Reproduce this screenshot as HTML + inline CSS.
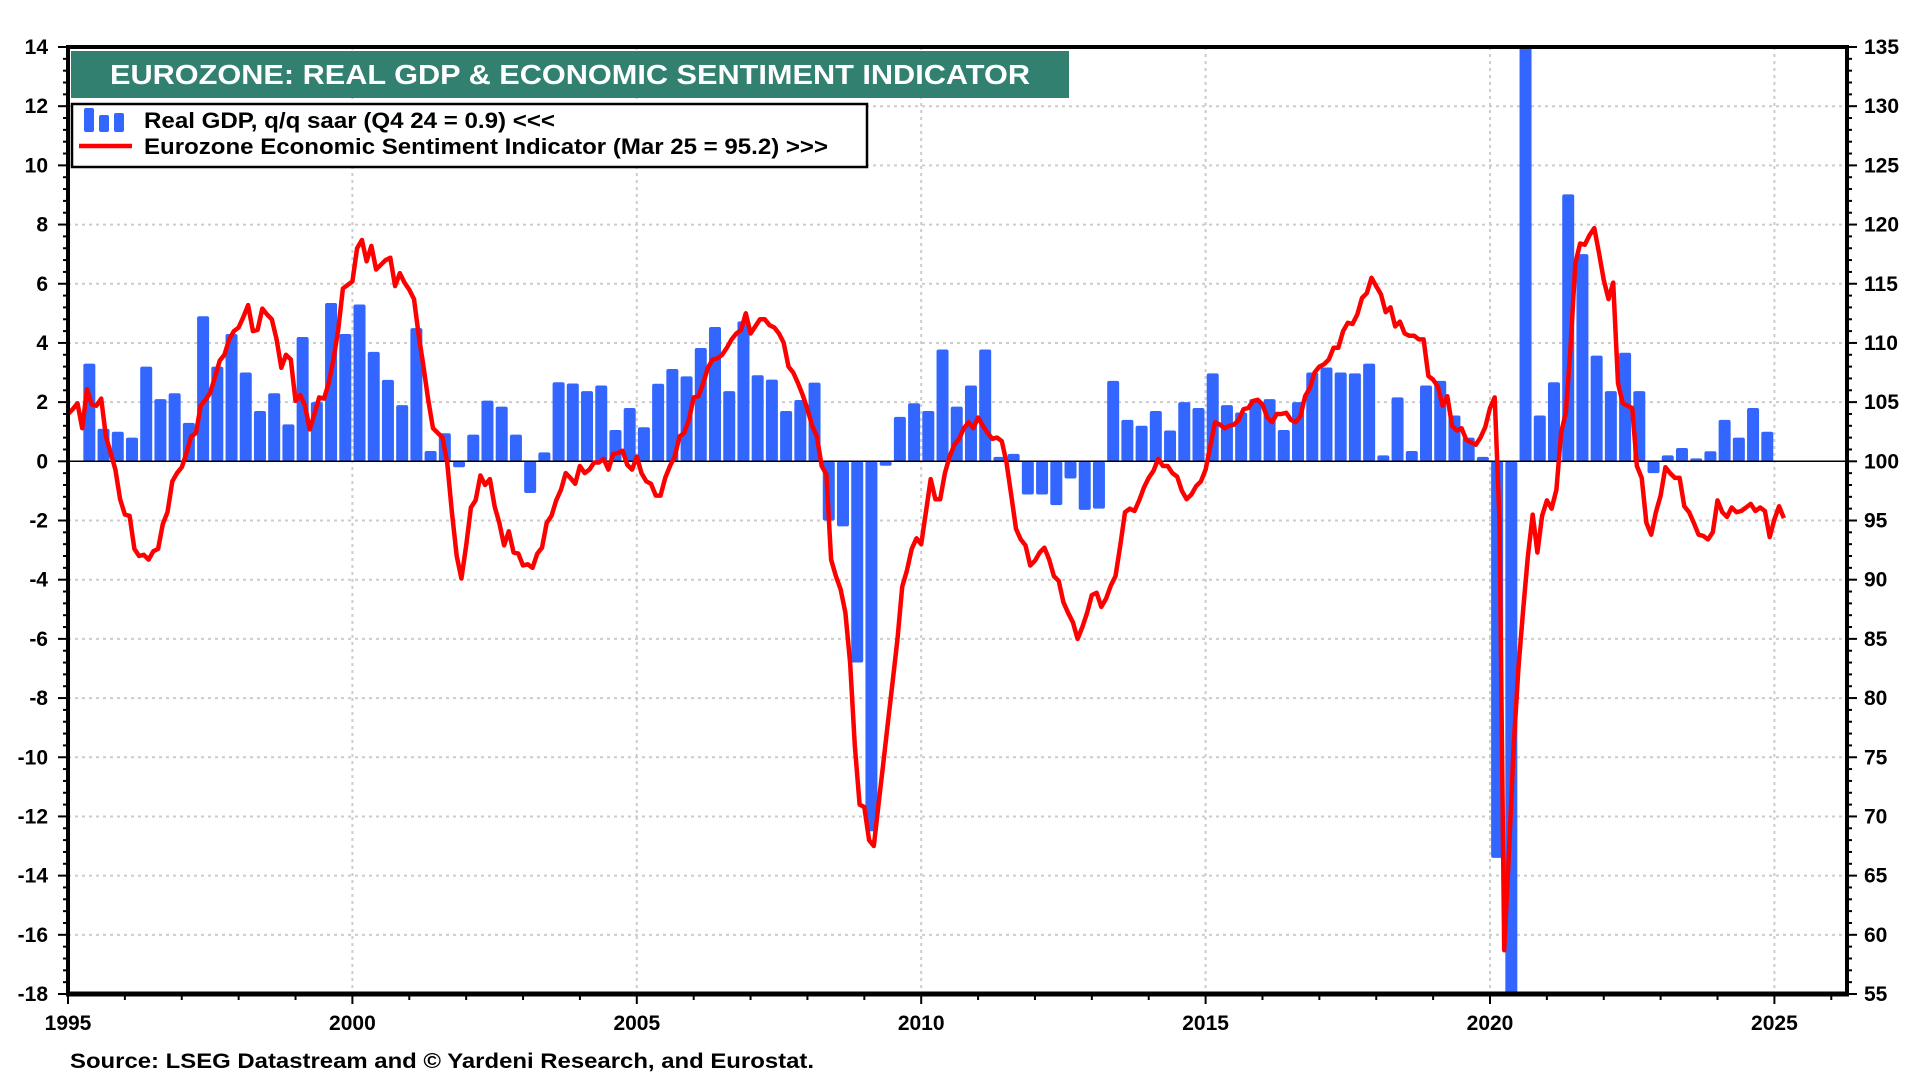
<!DOCTYPE html>
<html><head><meta charset="utf-8"><style>
html,body{margin:0;padding:0;background:#fff;overflow:hidden;width:1920px;height:1080px;}
svg{display:block;font-family:"Liberation Sans",Arial,sans-serif;font-weight:bold;}
</style></head><body>
<svg id="chart" width="1920" height="1080" viewBox="0 0 1920 1080" xmlns="http://www.w3.org/2000/svg">
<defs><clipPath id="plotclip"><rect x="68" y="47" width="1779" height="946"/></clipPath></defs>
<g id="grid"></g>
<g id="bars" clip-path="url(#plotclip)"></g>
<line x1="68" x2="1847" y1="461.3" y2="461.3" stroke="#000" stroke-width="1.5"/>
<path id="esi" fill="none" stroke="#ff0000" stroke-width="4.5" stroke-linejoin="round" clip-path="url(#plotclip)"/>
<g id="axes"></g>
<rect x="71" y="51" width="998" height="47" fill="#318070"/>
<text x="110" y="84" font-size="28" fill="#fff" textLength="920" lengthAdjust="spacingAndGlyphs">EUROZONE: REAL GDP &amp; ECONOMIC SENTIMENT INDICATOR</text>
<g>
<rect x="72" y="104" width="795" height="63" fill="#fff" stroke="#000" stroke-width="2.5"/>
<g>
<rect x="84" y="108" width="10" height="24" rx="2" fill="#3366ff"/><rect x="99" y="115" width="10" height="17" rx="2" fill="#3366ff"/><rect x="114" y="113" width="10" height="19" rx="2" fill="#3366ff"/>
<text x="144" y="128" font-size="22" textLength="411" lengthAdjust="spacingAndGlyphs">Real GDP, q/q saar (Q4 24 = 0.9) &lt;&lt;&lt;</text>
</g>
<g>
<line x1="79" x2="132" y1="146" y2="146" stroke="#ff0000" stroke-width="4.5"/>
<text x="144" y="154" font-size="22" textLength="684" lengthAdjust="spacingAndGlyphs">Eurozone Economic Sentiment Indicator (Mar 25 = 95.2) &gt;&gt;&gt;</text>
</g>
</g>
<text x="70" y="1068" font-size="21" textLength="744" lengthAdjust="spacingAndGlyphs">Source: LSEG Datastream and © Yardeni Research, and Eurostat.</text>
</svg>
<script>
const gdpStart = 1995.25;
const gdpValues = [3.3,1.1,1.0,
0.8,3.2,2.1,2.3, 1.3,4.9,3.2,4.3, 3.0,1.7,2.3,1.25, 4.2,2.0,5.35,4.3,
5.3,3.7,2.75,1.9, 4.5,0.35,0.95,-0.2, 0.9,2.05,1.85,0.9, -1.07,0.3,2.67,2.63,
2.37,2.56,1.06,1.8, 1.15,2.62,3.12,2.87, 3.83,4.54,2.37,4.73, 2.91,2.76,1.7,2.07,
2.66,-2.0,-2.2,-6.8, -12.5,-0.15,1.5,1.96, 1.7,3.78,1.85,2.56, 3.78,0.15,0.25,-1.12,
-1.12,-1.48,-0.58,-1.64, -1.6,2.72,1.4,1.2, 1.7,1.04,2.0,1.8, 2.97,1.9,1.65,2.1,
2.1,1.06,2.0,3.0, 3.17,3.0,2.97,3.3, 0.2,2.16,0.35,2.56, 2.72,1.55,0.8,0.15,
-13.4,-40,60,1.55, 2.67,9.02,7.0,3.57, 2.37,3.67,2.37,-0.4, 0.2,0.45,0.1,0.34,
1.4,0.8,1.8,1.0];
const esiStart = 1995.0;
const esiValues = [104.0,104.4,104.9,102.8,106.1,104.8,104.7,105.3,102.1,100.7,99.3,96.8,95.5,95.4,92.6,92.0,92.1,91.7,92.4,92.6,94.7,95.7,98.3,99.0,99.5,100.7,102.1,102.4,104.7,105.2,105.8,107.1,108.5,109.0,110.3,111.0,111.3,112.2,113.2,111.0,111.1,112.9,112.4,112.0,110.3,107.9,109.0,108.6,105.1,105.6,104.7,102.7,104.0,105.4,105.3,106.6,108.6,111.1,114.6,114.9,115.2,118.0,118.7,116.9,118.2,116.2,116.6,117.0,117.2,114.8,115.9,115.1,114.5,113.7,110.6,108.0,105.2,102.8,102.4,102.0,99.9,95.7,92.0,90.1,92.9,96.1,96.7,98.8,98.0,98.5,96.2,94.8,92.9,94.1,92.3,92.2,91.2,
91.3,91.0,92.2,92.7,94.8,95.4,96.7,97.6,99.0,98.6,98.1,99.6,99.0,99.3,99.9,99.9,100.2,99.3,100.6,100.7,100.9,99.7,99.3,100.4,99.0,98.3,98.1,97.1,97.1,98.6,99.6,100.4,102.1,102.4,103.5,105.4,105.5,106.6,107.9,108.6,108.7,109.0,109.6,110.3,110.8,111.1,112.5,110.8,111.4,112.0,112.0,111.5,111.3,110.8,110.0,108.0,107.5,106.6,105.6,104.4,103.0,102.1,99.6,98.9,91.7,90.3,89.2,87.2,83,76,71,70.8,68,67.5,71,74.5,78,81.5,85,89.4,90.8,92.6,93.5,93.0,95.7,98.5,96.8,96.8,99.0,100.4,101.4,101.9,102.8,103.3,102.8,103.7,103.0,102.4,101.9,
102.0,101.7,99.9,97.1,94.3,93.4,92.9,91.2,91.6,92.3,92.7,91.7,90.3,89.9,88.1,87.2,86.4,85.0,86.0,87.2,88.7,88.9,87.7,88.4,89.5,90.3,92.9,95.7,96.0,95.8,96.7,97.8,98.6,99.2,100.2,99.6,99.6,99.0,98.7,97.5,96.8,97.2,97.9,98.3,99.3,101.3,103.3,103.1,102.8,103.0,103.1,103.5,104.4,104.5,105.1,105.2,104.8,103.7,103.3,104.0,104.0,104.1,103.5,103.3,103.8,105.5,106.2,107.5,108.0,108.2,108.6,109.6,109.6,111.0,111.7,111.6,112.4,113.8,114.2,115.5,114.8,114.1,112.6,113.0,111.4,111.8,110.8,110.6,110.6,110.3,110.3,107.2,106.9,106.3,104.7,105.5,103.0,
102.6,102.8,101.8,101.6,101.4,102.0,102.9,104.5,105.4,95.0,58.7,67,76,82.5,87.5,92,
95.5,92.3,95.4,96.7,96.0,97.6,102.4,104.1,109.7,116.7,118.4,118.3,119.1,119.7,117.6,115.3,113.7,115.1,106.6,104.9,104.7,104.5,99.6,98.6,94.8,93.8,95.7,97.1,99.5,99.0,98.6,98.6,96.2,95.7,94.8,93.8,93.7,93.4,94.0,96.7,95.7,95.3,96.1,95.7,95.8,96.1,96.4,95.8,96.1,95.8,93.6,95.1,96.2,95.2];
const leftTicks = [14,12,10,8,6,4,2,0,-2,-4,-6,-8,-10,-12,-14,-16,-18];
const rightTicks = [135,130,125,120,115,110,105,100,95,90,85,80,75,70,65,60,55];
const yearTicks = [1995,2000,2005,2010,2015,2020,2025];

const NS = "http://www.w3.org/2000/svg";
const L = 68, R = 1847, T = 47, B = 994;
const xOf = yr => 68 + (yr - 1995) * 56.88;
const yL = v => T + (14 - v) * (B - T) / 32;
const yR = v => T + (135 - v) * (B - T) / 80;
function mk(tag, attrs, parent){ const e = document.createElementNS(NS, tag); for (const k in attrs) e.setAttribute(k, attrs[k]); parent.appendChild(e); return e; }

const grid = document.getElementById('grid');
leftTicks.forEach(v => { if (v === 14 || v === -18 || v === 0) return;
  const l = mk('line', {x1:L, x2:R, y1:yL(v), y2:yL(v), stroke:'#cccccc', 'stroke-width':2, 'stroke-dasharray':'3,4'}, grid);
  
  
});
yearTicks.forEach(y => { if (y === 1995) return;
  const l = mk('line', {x1:xOf(y), x2:xOf(y), y1:T, y2:B, stroke:'#cccccc', 'stroke-width':2, 'stroke-dasharray':'3,4'}, grid);
  
  
});

const bars = document.getElementById('bars');
gdpValues.forEach((v, i) => {
  const cx = xOf(gdpStart + i * 0.25 + 0.125);
  const y0 = yL(0), y1 = yL(v);
  const r = mk('rect', {x:cx - 6, y:Math.min(y0, y1), width:12, height:Math.max(Math.abs(y1 - y0), 2), rx:2, fill:'#3366ff'}, bars);
  
  
});

let d = '';
esiValues.forEach((v, i) => { d += (i ? 'L' : 'M') + xOf(esiStart + i / 12).toFixed(1) + ',' + yR(v).toFixed(1); });
document.getElementById('esi').setAttribute('d', d);

const axes = document.getElementById('axes');
mk('line', {x1:L, x2:L, y1:T-2, y2:B+2, stroke:'#000', 'stroke-width':4}, axes);
mk('line', {x1:R, x2:R, y1:T-2, y2:B+2, stroke:'#000', 'stroke-width':4}, axes);
mk('line', {x1:L-2, x2:R+2, y1:T, y2:T, stroke:'#000', 'stroke-width':4}, axes);
mk('line', {x1:L-2, x2:R+2, y1:B, y2:B, stroke:'#000', 'stroke-width':5}, axes);
for (let k = 0; k <= 80; k++) {
  const y = T + k * (B - T) / 80; const major = k % 5 === 0;
  mk('line', {x1:L - (major ? 10 : 5), x2:L, y1:y, y2:y, stroke:'#000', 'stroke-width':2}, axes);
  mk('line', {x1:R, x2:R + (major ? 10 : 5), y1:y, y2:y, stroke:'#000', 'stroke-width':2}, axes);
}
for (let y = 1995; y <= 2026; y++) {
  mk('line', {x1:xOf(y), x2:xOf(y), y1:B, y2:B + (y % 5 === 0 ? 10 : 6), stroke:'#000', 'stroke-width':2}, axes);
}
leftTicks.forEach(v => {
  const t = mk('text', {x:48, y:yL(v) + 7, 'font-size':21, 'text-anchor':'end'}, axes);
  t.textContent = v;
  
  
});
rightTicks.forEach(v => {
  const t = mk('text', {x:1864, y:yR(v) + 7, 'font-size':21}, axes);
  t.textContent = v;
  
  
});
yearTicks.forEach(y => {
  const t = mk('text', {x:xOf(y), y:1030, 'font-size':21, 'text-anchor':'middle'}, axes);
  t.textContent = y;
  
  
});
</script>
</body></html>
